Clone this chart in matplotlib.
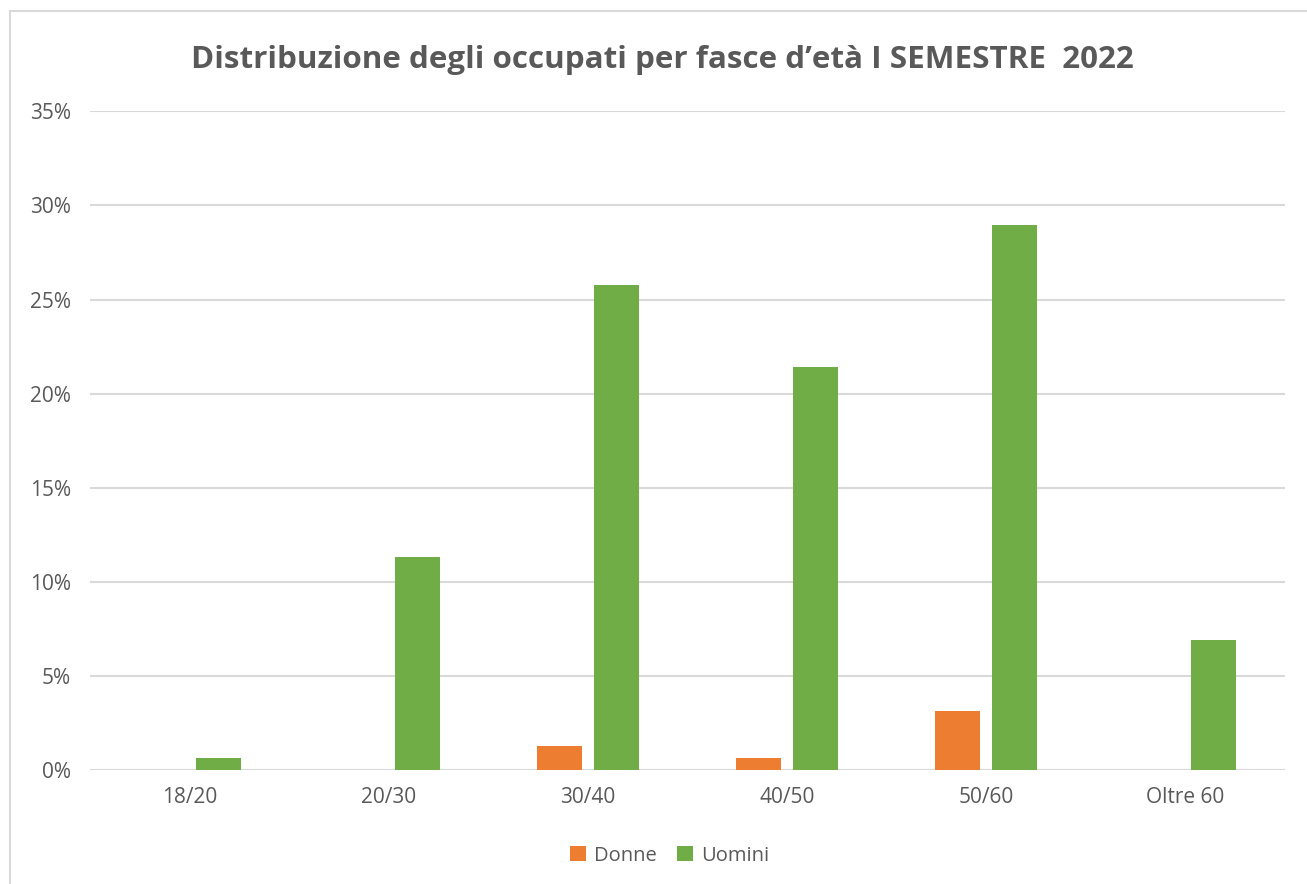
import matplotlib
matplotlib.use('Agg')
import matplotlib.pyplot as plt
import numpy as np
from matplotlib.patches import Rectangle
from matplotlib.ticker import FuncFormatter

plt.rcParams['font.family'] = ['Open Sans', 'DejaVu Sans']

categories = ['18/20', '20/30', '30/40', '40/50', '50/60', 'Oltre 60']
donne = [0.0, 0.0, 1.27, 0.65, 3.15, 0.0]
uomini = [0.65, 11.3, 25.75, 21.4, 28.95, 6.9]

text_col = '#595959'
grid_col = '#D9D9D9'

fig = plt.figure(figsize=(13.07, 8.84), dpi=100)
ax = fig.add_axes([0.069, 0.129, 0.914, 0.745])

x = np.arange(len(categories))
w = 0.226
off = 0.143
ax.bar(x - off, donne, w, color='#ED7D31', label='Donne', zorder=3)
ax.bar(x + off, uomini, w, color='#70AD47', label='Uomini', zorder=3)

ax.set_xlim(-0.5, len(categories) - 0.5)
ax.set_ylim(0, 35)
ax.set_yticks(np.arange(0, 36, 5))
ax.yaxis.set_major_formatter(FuncFormatter(lambda v, p: f'{int(v)}%'))
ax.set_xticks(x)
ax.set_xticklabels(categories)
ax.tick_params(axis='both', length=0, labelsize=15, colors=text_col)
ax.tick_params(axis='x', pad=12)
ax.tick_params(axis='y', pad=14)
ax.grid(axis='y', color=grid_col, linewidth=1.5, zorder=0)
for s in ax.spines.values():
    s.set_visible(False)

fig.text(0.507, 0.932, 'Distribuzione degli occupati per fasce d\u2019et\u00e0 I SEMESTRE  2022',
         ha='center', va='center', fontsize=22.6, fontweight='bold', color=text_col)

leg = ax.legend(loc='center', bbox_to_anchor=(0.485, -0.13), ncol=2, frameon=False,
                fontsize=14.5, handlelength=0.8, handleheight=0.8, columnspacing=1.0,
                handletextpad=0.4)
for t in leg.get_texts():
    t.set_color(text_col)

fig.patches.append(Rectangle((0.008, -0.01), 1.5, 0.997, transform=fig.transFigure,
                             fill=False, edgecolor='#D9D9D9', linewidth=1.5))

fig.savefig('out.png', dpi=100)
